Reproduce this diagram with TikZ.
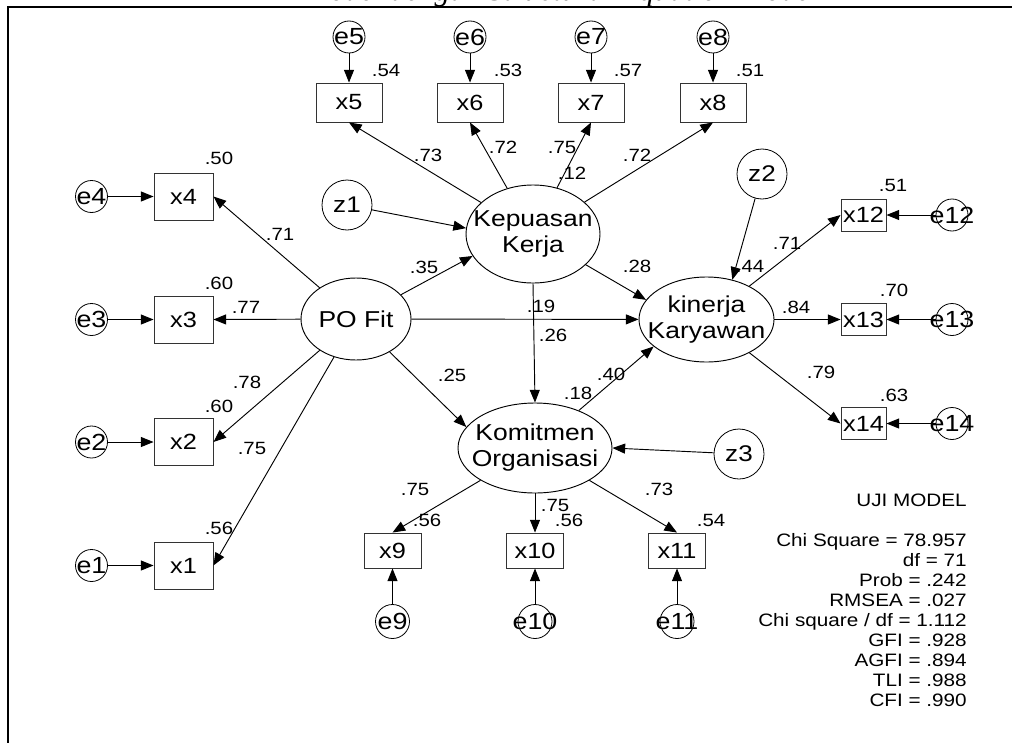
\documentclass[tikz,border=0pt]{standalone}
\usepackage{fontspec}
\setmainfont{Liberation Sans}[FakeStretch=1.15]
\newfontfamily\titlefont{Liberation Serif}
\usetikzlibrary{arrows.meta,shapes.geometric}
\newdimen\pxu \pxu=0.75pt
\begin{document}
\begin{tikzpicture}[x=0.75pt,y=-0.75pt,
  obs/.style={draw=black!80, line width=0.7pt, rectangle, inner sep=0pt, font=\fontsize{16.5}{18}\selectfont},
  errc/.style={draw, circle, line width=0.6pt, inner sep=0pt, minimum size=32\pxu},
  errt/.style={font=\fontsize{17.5}{19}\selectfont, inner sep=0pt},
  dist/.style={draw, circle, line width=0.6pt, inner sep=0pt, minimum size=50\pxu, font=\fontsize{17}{19}\selectfont},
  lat/.style={draw, ellipse, line width=0.7pt, inner sep=0pt},
  latt/.style={font=\fontsize{17.25}{19.5}\selectfont, align=center, inner sep=0pt},
  pth/.style={line width=0.7pt, -{Triangle[length=9.5pt,width=7.5pt]}},
  lbl/.style={font=\fontsize{13.3}{14}\selectfont, inner sep=0pt},
  stat/.style={font=\fontsize{13.5}{15}\selectfont, inner sep=0pt},
]
\useasboundingbox (0,0) rectangle (1012,742);
\clip (0,0) rectangle (1012,742);

% title (clipped at the top edge, as in the reference) and frame
\node[anchor=base west, inner sep=0pt, font=\titlefont\itshape\fontsize{23}{25}\selectfont] (title) at (304,1) {Model dengan Structural Equation Model};
\draw[line width=1.1pt] (8,760) -- (8,7) -- (1030,7);

% latent variables
\node[lat, minimum width=110\pxu, minimum height=82\pxu, label={[latt]center:PO Fit}] (po) at (356,319) {};
\node[lat, minimum width=134\pxu, minimum height=98\pxu, label={[latt]center:Kepuasan\\Kerja}] (kep) at (533,234) {};
\node[lat, minimum width=154\pxu, minimum height=90\pxu, label={[latt]center:Komitmen\\Organisasi}] (kom) at (535,448) {};
\node[lat, minimum width=135\pxu, minimum height=85\pxu, label={[latt]center:kinerja\\Karyawan}] (kin) at (706.5,319.5) {};

% disturbances
\node[dist] (z1) at (347,205) {z1};
\node[dist] (z2) at (762,174) {z2};
\node[dist] (z3) at (739,454) {z3};

% observed: left
\foreach \n/\y in {1/565.5,2/442,3/319.5,4/196.5}{
  \node[obs, minimum width=59\pxu, minimum height=47\pxu] (x\n) at (183.5,\y) {x\n};
  \node[errc, label={[errt]center:e\n}] (e\n) at (91.5,\y) {};
}
% observed: top
\foreach \n/\x in {5/349,6/470,7/591,8/713}{
  \node[obs, minimum width=66\pxu, minimum height=39\pxu] (x\n) at (\x,102.5) {x\n};
  \node[errc, label={[errt]center:e\n}] (e\n) at (\x,37) {};
}
% observed: bottom
\foreach \n/\x in {9/392.5,10/535,11/677}{
  \node[obs, minimum width=57\pxu, minimum height=35\pxu] (x\n) at (\x,550.5) {x\n};
  \node[errc, minimum size=34\pxu, label={[errt]center:e\n}] (e\n) at (\x,621.5) {};
}
% observed: right
\foreach \n/\y in {12/215,13/319.5,14/423.5}{
  \node[obs, minimum width=45\pxu, minimum height=32\pxu] (x\n) at (863.5,\y) {x\n};
  \node[errc, label={[errt]center:e\n}] (e\n) at (952,\y) {};
}

% error arrows
\foreach \n in {1,...,14}{ \draw[pth] (e\n) -- (x\n); }

% loadings
\foreach \n in {1,2,3,4}{ \draw[pth] (po) -- (x\n.east); }
\foreach \n in {5,6,7,8}{ \draw[pth] (kep) -- (x\n.south); }
\foreach \n in {9,10,11}{ \draw[pth] (kom) -- (x\n.north); }
\foreach \n in {12,13,14}{ \draw[pth] (kin) -- (x\n.west); }

% structural paths
\draw[pth] (z1) -- (kep.175);
\draw[pth] (z2) -- (kin.57);
\draw[pth] (z3) -- (kom.east);
\draw[pth] (po) -- (kep.200);
\draw[pth] (po) -- (kin);
\draw[pth] (po) -- (kom.163);
\draw[pth] (kep.south) -- (kom.north);
\draw[pth] (kep) -- (kin.162);
\draw[pth] (kom) -- (kin.207);

% labels
\foreach \t/\x/\y [count=\i] in {
  .50/219/158, .60/219/283, .60/219/406, .56/219/528,
  .71/280/234, .77/246/307, .78/247/382, .75/252/448,
  .54/386/70, .53/508/70, .57/628/70, .51/750/70,
  .73/428/155, .72/503/147, .75/562/147, .12/572/173, .72/637/155,
  .35/424/267, .28/637/266, .19/541/306, .26/553/335, .25/452/375, .18/578/393, .40/611/374, .44/750/266,
  .51/893/185, .70/894/290, .63/894/395, .71/787/243, .84/796/307, .79/821/372,
  .75/415/489, .56/427/520, .75/555/505, .56/569/520, .73/659/489, .54/711/520}
  { \node[lbl] (l\i) at (\x,\y) {\t}; }

% fit statistics
\node[stat, anchor=east] (uji) at (967,500) {UJI MODEL};
\node[stat, anchor=north east, align=right] (fit) at (967,533) {Chi Square = 78.957\\df = 71\\Prob = .242\\RMSEA = .027\\Chi square / df = 1.112\\GFI = .928\\AGFI = .894\\TLI = .988\\CFI = .990};
\end{tikzpicture}
\end{document}
